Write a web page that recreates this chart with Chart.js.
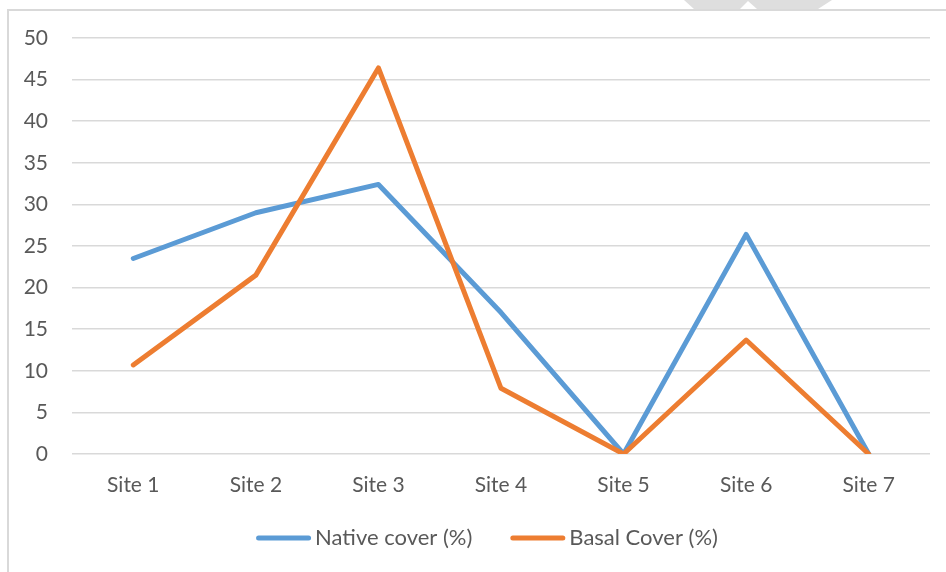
<!DOCTYPE html>
<html>
<head>
<meta charset="utf-8">
<script src="https://cdn.jsdelivr.net/npm/chart.js@4/dist/chart.umd.min.js"></script>
<style>
  html, body { margin: 0; padding: 0; background: #ffffff; }
  #wrap { width: 946px; height: 572px; position: relative; }
</style>
</head>
<body>
<div id="wrap"><canvas id="c" width="946" height="572"></canvas></div>
<script>
// Site labels along the category axis
const sites = ['Site 1', 'Site 2', 'Site 3', 'Site 4', 'Site 5', 'Site 6', 'Site 7'];
// Percent cover per site
const nativeCover = [23.5, 29, 32.4, 17, 0, 26.4, 0];
const basalCover = [10.7, 21.5, 46.4, 7.9, 0, 13.7, 0];
// Value axis range
const yMin = 0, yMax = 50, yStep = 5;

const seriesNames = ['Native cover (%)', 'Basal Cover (%)'];
const seriesColors = ['#5B9BD5', '#ED7D31'];

const FONT = 'Lato, "Open Sans", sans-serif';
const TEXT = '#595959';
const GRID = '#D9D9D9';

// Outer frame and the grey shape along the top edge
const framePlugin = {
  id: 'frame',
  beforeDraw(chart) {
    const ctx = chart.ctx;
    ctx.save();
    ctx.fillStyle = '#ffffff';
    ctx.fillRect(0, 0, chart.width, chart.height);
    ctx.fillStyle = '#DEDEDE';
    ctx.beginPath();
    ctx.moveTo(684, 0);
    ctx.lineTo(832, 0);
    ctx.lineTo(818, 9);
    ctx.lineTo(757, 9);
    ctx.lineTo(748, 1);
    ctx.lineTo(740, 9);
    ctx.lineTo(694, 9);
    ctx.closePath();
    ctx.fill();
    ctx.strokeStyle = GRID;
    ctx.lineWidth = 2;
    ctx.beginPath();
    ctx.moveTo(8, chart.height);
    ctx.lineTo(8, 10);
    ctx.lineTo(chart.width, 10);
    ctx.stroke();
    ctx.restore();
  }
};

// Legend drawn beneath the axis: a short stroke followed by the series name
const legendPlugin = {
  id: 'lineLegend',
  afterDraw(chart) {
    const ctx = chart.ctx;
    const sw = 55, gapText = 4, gapItem = 38, y = 538;
    ctx.save();
    ctx.font = '22px ' + FONT;
    ctx.textBaseline = 'middle';
    const items = chart.data.datasets.map(ds => ({
      label: ds.label, color: ds.borderColor, w: ctx.measureText(ds.label).width
    }));
    const total = items.reduce((s, it) => s + sw + gapText + it.w, 0) + gapItem * (items.length - 1);
    let x = 487 - total / 2;
    items.forEach(it => {
      ctx.strokeStyle = it.color;
      ctx.lineWidth = 5;
      ctx.lineCap = 'round';
      ctx.beginPath();
      ctx.moveTo(x + 2.5, y);
      ctx.lineTo(x + sw - 2.5, y);
      ctx.stroke();
      ctx.fillStyle = TEXT;
      ctx.fillText(it.label, x + sw + gapText, y);
      x += sw + gapText + it.w + gapItem;
    });
    ctx.restore();
  }
};

new Chart(document.getElementById('c'), {
  type: 'line',
  data: {
    labels: sites,
    datasets: [
      {
        label: seriesNames[0],
        data: nativeCover,
        borderColor: seriesColors[0],
        backgroundColor: seriesColors[0],
        borderWidth: 5,
        pointRadius: 0,
        tension: 0,
        borderCapStyle: 'round',
        borderJoinStyle: 'round',
        order: 2
      },
      {
        label: seriesNames[1],
        data: basalCover,
        borderColor: seriesColors[1],
        backgroundColor: seriesColors[1],
        borderWidth: 5,
        pointRadius: 0,
        tension: 0,
        borderCapStyle: 'round',
        borderJoinStyle: 'round',
        order: 1
      }
    ]
  },
  options: {
    responsive: false,
    animation: false,
    devicePixelRatio: 1,
    layout: { padding: { left: 0, right: 16, top: 38, bottom: 0 } },
    plugins: {
      legend: { display: false },
      tooltip: { enabled: false }
    },
    scales: {
      x: {
        offset: true,
        grid: { display: false, drawTicks: false },
        border: { display: false },
        ticks: { color: TEXT, font: { family: FONT, size: 21 }, padding: 19, maxRotation: 0 },
        afterFit(scale) { scale.height = 118; }
      },
      y: {
        min: yMin,
        max: yMax,
        grid: { color: GRID, lineWidth: 1.5, drawTicks: false },
        border: { display: false },
        ticks: { stepSize: yStep, color: TEXT, font: { family: FONT, size: 21 }, padding: 24 },
        afterFit(scale) { scale.width = 72; }
      }
    }
  },
  plugins: [framePlugin, legendPlugin]
});
</script>
</body>
</html>
